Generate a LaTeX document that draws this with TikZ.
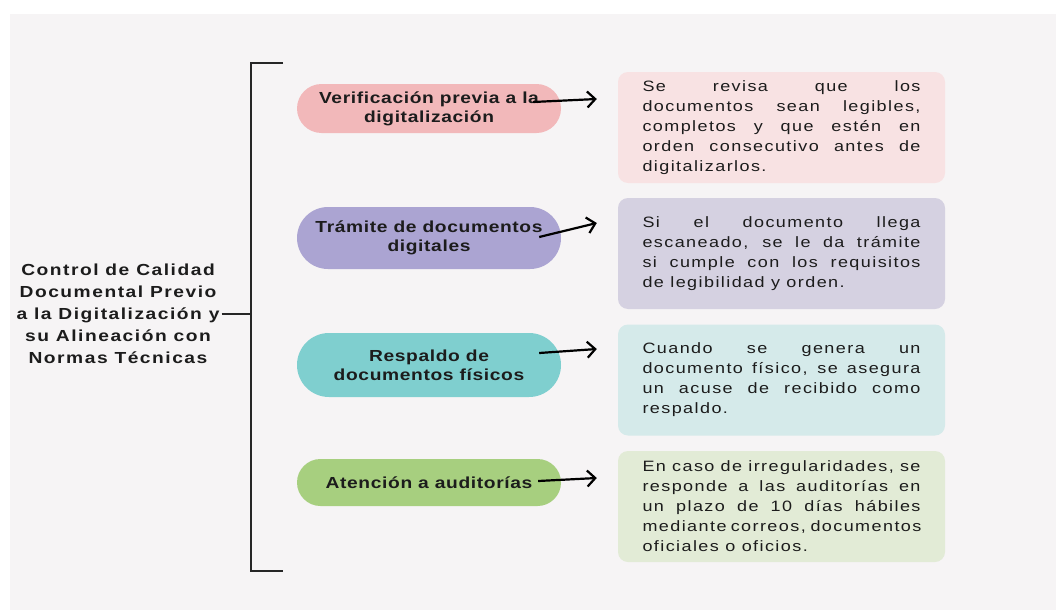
\documentclass[tikz,border=0pt]{standalone}
\usepackage{fontspec}
\setmainfont{Liberation Sans}[FakeStretch=1.2]
\usetikzlibrary{shapes.misc}
\usetikzlibrary{arrows.meta}
\usetikzlibrary{positioning}
\usetikzlibrary{calc}

\definecolor{bgcol}{HTML}{F6F4F5}
\definecolor{txt}{HTML}{1C1C1C}
\definecolor{brkcol}{HTML}{262626}
\definecolor{pinkA}{HTML}{F2B8BA}
\definecolor{lilaA}{HTML}{ABA4D2}
\definecolor{tealA}{HTML}{7FCFCF}
\definecolor{greenA}{HTML}{A7CF7F}
\definecolor{pinkB}{HTML}{F8E2E3}
\definecolor{lilaB}{HTML}{D5D1E1}
\definecolor{tealB}{HTML}{D5EAEA}
\definecolor{greenB}{HTML}{E2EBD6}

\hyphenpenalty=10000
\exhyphenpenalty=10000
\tolerance=10000

\begin{document}
\begin{tikzpicture}[x=1pt, y=-1pt,
    pill/.style={rounded rectangle, fill=#1, minimum width=268pt,
      inner sep=2pt, align=center, text=txt,
      font=\fontsize{16}{19}\selectfont\bfseries\addfontfeature{LetterSpace=4}},
    note/.style={rounded corners=10pt, fill=#1, minimum width=327pt,
      minimum height=111pt, text width=278pt, align=justify, text=txt,
      font=\fontsize{15}{20}\selectfont\addfontfeature{LetterSpace=9.5}},
    ttl/.style={align=center, text=txt, inner sep=2pt,
      font=\fontsize{16}{22}\selectfont\bfseries\addfontfeature{LetterSpace=9.5}},
    brk/.style={draw=brkcol, line width=2pt},
    arr/.style={draw=black, line width=2.2pt,
      -{Straight Barb[length=8pt,width=16pt]}}]

\useasboundingbox (0,0) rectangle (1056,610);
\fill[bgcol] (10,14) rectangle (1056,610);

% main title and bracket
\node[ttl] (title) at (118,314) {Control de Calidad\\Documental Previo\\a la Digitalización y\\su Alineación con\\Normas Técnicas};

\coordinate (btop) at (251,63);
\coordinate (bbot) at (251,571);
\coordinate (bmid) at (251,314);
\draw[brk] ($(btop)+(32,0)$) -- (btop) -- (bbot) -- ($(bbot)+(32,0)$);
\draw[brk] (title.east) -- (bmid);

% stages
\node[pill=pinkA, minimum height=49pt] (p1) at (429,108.5)
    {Verificación previa a la\\digitalización};
\node[pill=lilaA, minimum height=62pt] (p2) at (429,238)
    {Trámite de documentos\\digitales};
\node[pill=tealA, minimum height=64pt] (p3) at (429,365)
    {Respaldo de\\documentos físicos};
\node[pill=greenA, minimum height=47pt] (p4) at (429,482.5)
    {Atención a auditorías};

% descriptions
\node[note=pinkB] (b1) at (781.5,127.5)
    {Se revisa que los\linebreak documentos sean legibles,\linebreak completos y que estén en\linebreak orden consecutivo antes de\linebreak digitalizarlos.};
\node[note=lilaB] (b2) at (781.5,253.5)
    {Si el documento llega\linebreak escaneado, se le da trámite\linebreak si cumple con los requisitos\linebreak de legibilidad y orden.};
\node[note=tealB] (b3) at (781.5,380)
    {Cuando se genera un\linebreak documento físico, se asegura\linebreak un acuse de recibido como\linebreak respaldo.};
\node[note=greenB] (b4) at (781.5,506.5)
    {En caso de irregularidades, se\linebreak responde a las auditorías en\linebreak un plazo de 10 días hábiles\linebreak mediante correos, documentos\linebreak oficiales o oficios.};

\foreach \i/\sx/\sy/\ey in {1/-28/-6.5/-28.5, 2/-22/-1/-30.5,
                            3/-22/-12/-31, 4/-23/-1.5/-28.5} {
    \draw[arr] ($(p\i.east)+(\sx,\sy)$) -- ($(b\i.west)+(-21,\ey)$);
}

\end{tikzpicture}
\end{document}
